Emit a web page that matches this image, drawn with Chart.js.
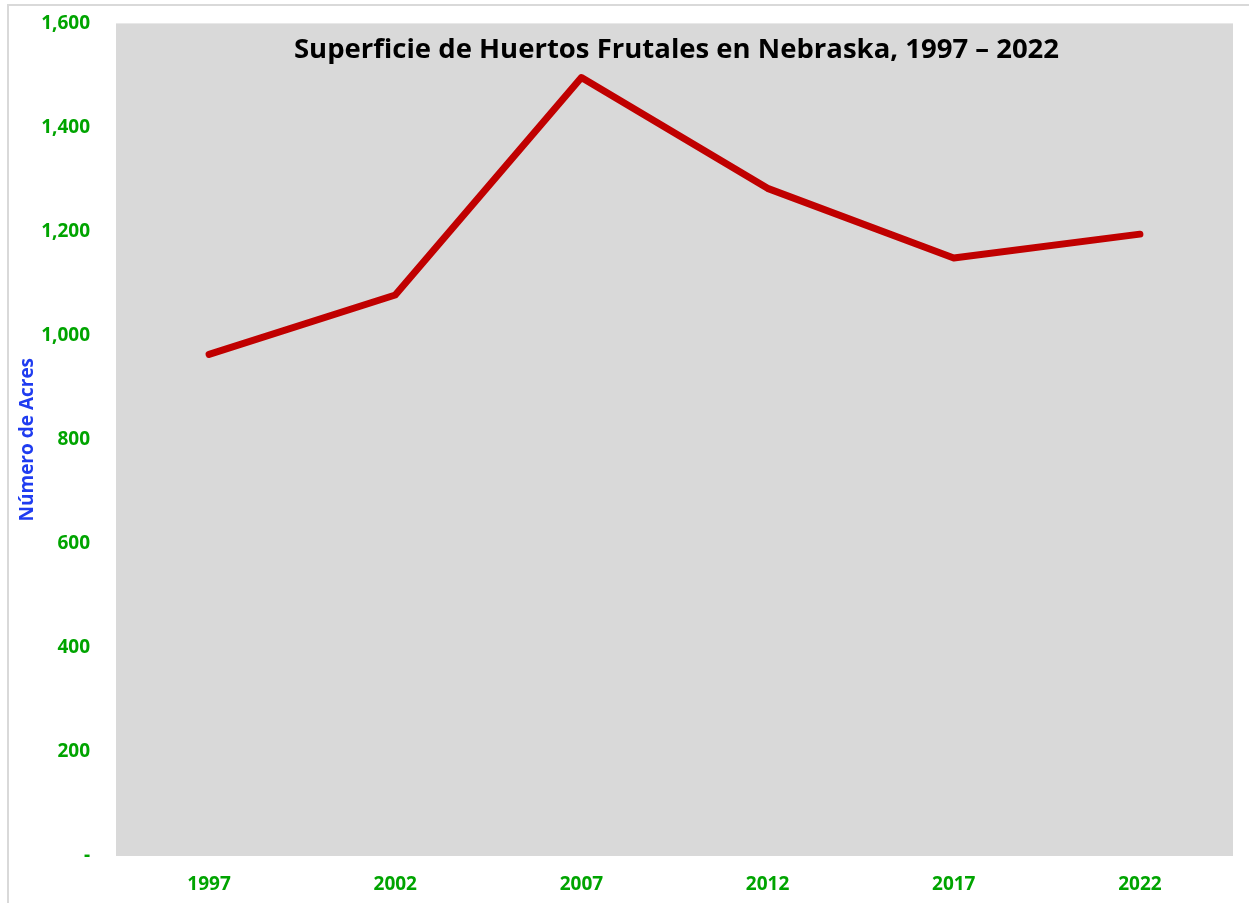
<!DOCTYPE html>
<html>
<head>
<meta charset="utf-8">
<script src="https://cdn.jsdelivr.net/npm/chart.js@4.4.1/dist/chart.umd.min.js"></script>
<style>
  html, body { margin: 0; padding: 0; background: #ffffff; }
  #wrap { position: relative; width: 1249px; height: 903px; overflow: hidden; }
  #frame { position: absolute; left: 7px; top: 4px; width: 1260px; height: 920px; border: 2px solid #d9d9d9; box-sizing: border-box; }
  canvas { position: absolute; left: 0; top: -14px; }
</style>
</head>
<body>
<div id="wrap">
  <div id="frame"></div>
  <canvas id="chart" width="1249" height="917"></canvas>
</div>
<script>
// Chart data
const years = ['1997', '2002', '2007', '2012', '2017', '2022'];
const acres = [964, 1078, 1496, 1283, 1149, 1195];
const yTicks = [0, 200, 400, 600, 800, 1000, 1200, 1400, 1600];

const titleText = 'Superficie de Huertos Frutales en Nebraska, 1997 \u2013 2022';
const green = '#00a400';
const fontFamily = '"Open Sans", "Noto Sans", sans-serif';

// grey plot background + title drawn inside the plot area
const plotDecor = {
  id: 'plotDecor',
  beforeDraw(chart) {
    const { ctx, chartArea: a } = chart;
    ctx.save();
    ctx.fillStyle = '#d9d9d9';
    ctx.fillRect(a.left, a.top, a.right - a.left, a.bottom - a.top);
    ctx.restore();
  },
  afterDatasetsDraw(chart) {
    const { ctx, chartArea: a } = chart;
    ctx.save();
    ctx.fillStyle = '#000000';
    ctx.font = 'bold 27.5px ' + fontFamily;
    ctx.textAlign = 'center';
    ctx.textBaseline = 'middle';
    ctx.fillText(titleText, (a.left + a.right) / 2 + 2, a.top + 27);
    ctx.restore();
  }
};

new Chart(document.getElementById('chart'), {
  type: 'line',
  data: {
    labels: years,
    datasets: [{
      data: acres,
      borderColor: '#c00000',
      borderWidth: 7,
      borderCapStyle: 'round',
      borderJoinStyle: 'round',
      pointRadius: 0,
      tension: 0,
      fill: false
    }]
  },
  options: {
    responsive: false,
    animation: false,
    layout: { padding: { top: 10, right: 16, left: 0, bottom: 0 } },
    plugins: {
      legend: { display: false },
      tooltip: { enabled: false }
    },
    scales: {
      x: {
        offset: true,
        grid: { display: false, drawTicks: false },
        border: { display: false },
        ticks: {
          color: green,
          padding: 17,
          font: { family: fontFamily, size: 19, weight: 'bold' }
        },
        afterFit(scale) { scale.height = 903 - 856; }
      },
      y: {
        min: 0,
        max: 1600,
        afterBuildTicks(scale) { scale.ticks = yTicks.map(v => ({ value: v })); },
        grid: { display: false, drawTicks: false },
        border: { display: false },
        ticks: {
          color: green,
          padding: 26,
          font: { family: fontFamily, size: 19, weight: 'bold' },
          callback: v => v === 0 ? '-' : v.toLocaleString('en-US')
        },
        title: {
          display: true,
          text: 'Número de Acres',
          color: '#1f3cf0',
          padding: { top: 16, bottom: 0 },
          font: { family: fontFamily, size: 19, weight: 'bold' }
        },
        afterFit(scale) { scale.width = 116; }
      }
    }
  },
  plugins: [plotDecor]
});
</script>
</body>
</html>
